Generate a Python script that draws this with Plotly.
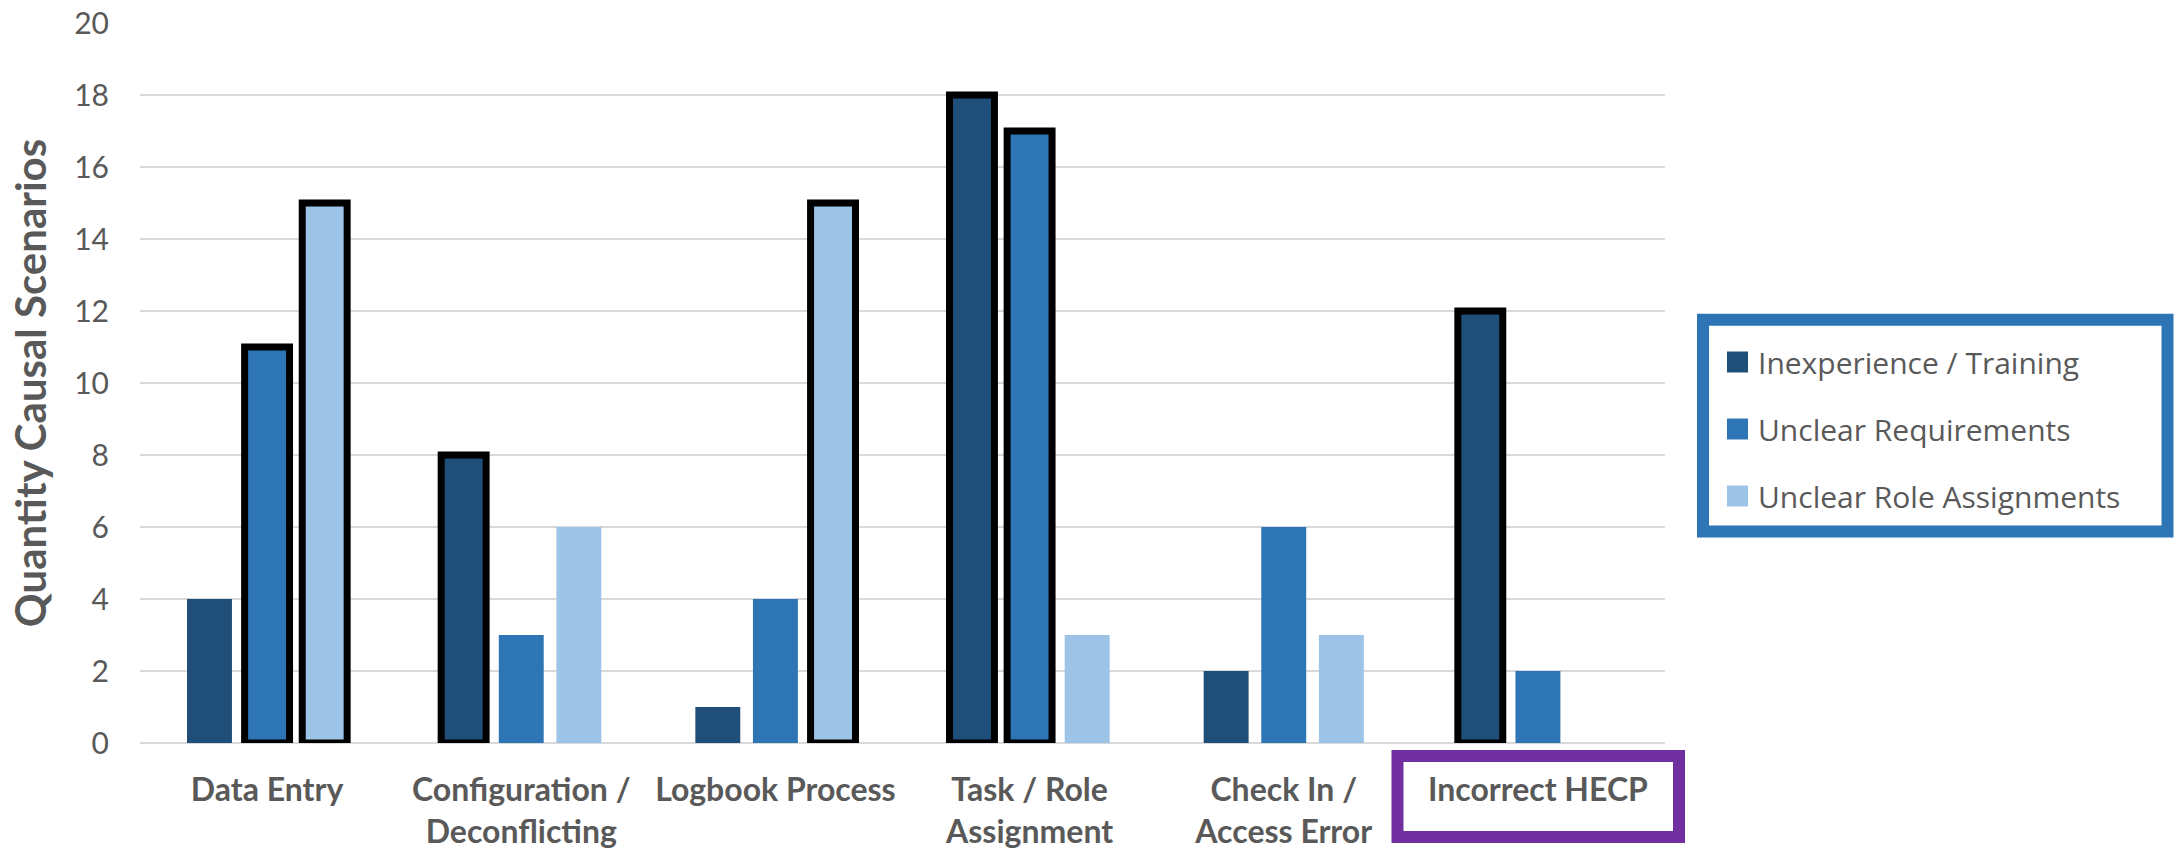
import plotly.graph_objects as go

# Category labels and series values
categories = ["Data Entry", "Configuration /<br>Deconflicting", "Logbook Process",
              "Task / Role<br>Assignment", "Check In /<br>Access Error", "Incorrect HECP"]
series_names = ["Inexperience / Training", "Unclear Requirements", "Unclear Role Assignments"]
inexperience = [4, 8, 1, 18, 2, 12]
unclear_req = [11, 3, 4, 17, 6, 2]
unclear_role = [15, 6, 15, 3, 3, 0]
# which bars get a heavy black outline (1 = outlined)
outline_inexp = [0, 1, 0, 1, 0, 1]
outline_req = [1, 0, 0, 1, 0, 0]
outline_role = [1, 0, 1, 0, 0, 0]
y_ticks = [0, 2, 4, 6, 8, 10, 12, 14, 16, 18, 20]

colors = ["#1F4E79", "#2E75B6", "#9DC3E6"]
GRAY = "#595959"
W, H = 2179, 849
L, R, T, B = 140, 1665, 23, 743  # plot area in pixels


def px(x):
    return (x - L) / (R - L)


def py(y):
    return (B - y) / (B - T)


fig = go.Figure()
for name, vals, outl, col in zip(series_names,
                                 [inexperience, unclear_req, unclear_role],
                                 [outline_inexp, outline_req, outline_role],
                                 colors):
    fig.add_trace(go.Bar(
        x=categories, y=vals, name=name, showlegend=False,
        marker=dict(color=col,
                    line=dict(color="black", width=[7 if o else 0 for o in outl])),
    ))

fig.update_layout(
    width=W, height=H,
    margin=dict(l=L, r=W - R, t=T, b=H - B, autoexpand=False),
    paper_bgcolor="white", plot_bgcolor="white",
    barmode="group", bargap=0.32, bargroupgap=0.22,
    font=dict(family="Lato", color=GRAY),
    xaxis=dict(tickangle=0, showline=False, showgrid=False, ticks="",
               tickfont=dict(family="Lato", size=32, color=GRAY, weight="bold"),
               ticklabelstandoff=25),
    yaxis=dict(range=[0, 20], tickvals=y_ticks, showgrid=True, gridcolor="#D9D9D9",
               gridwidth=2, zeroline=True, zerolinecolor="#D9D9D9", zerolinewidth=2,
               showline=False, ticks="",
               tickfont=dict(family="Lato", size=30, color=GRAY),
               ticklabelstandoff=30,
               title=dict(text="Quantity Causal Scenarios", standoff=14,
                          font=dict(family="Lato", size=42, color=GRAY, weight="bold"))),
)

# Legend box with heavy blue frame
shapes = [dict(type="rect", xref="paper", yref="paper",
               x0=px(1703), x1=px(2167.5), y0=py(531.5), y1=py(319.7),
               line=dict(color="#2E75B6", width=12), fillcolor="white", layer="above")]
annotations = []
for i, (name, col) in enumerate(zip(series_names, colors)):
    cy = 362 + 67 * i
    shapes.append(dict(type="rect", xref="paper", yref="paper",
                       x0=px(1727), x1=px(1748), y0=py(cy + 10.5), y1=py(cy - 10.5),
                       line=dict(width=0), fillcolor=col, layer="above"))
    annotations.append(dict(text=name, xref="paper", yref="paper",
                            x=px(1756), y=py(cy), xanchor="left", yanchor="middle",
                            showarrow=False,
                            font=dict(family="Open Sans", size=30, color=GRAY)))

# Purple frame around the last category label
shapes.append(dict(type="rect", xref="paper", yref="paper",
                   x0=px(1397.5), x1=px(1679), y0=py(837), y1=py(756),
                   line=dict(color="#7030A0", width=12), layer="above"))

fig.update_layout(shapes=shapes, annotations=annotations)
fig.write_html("out.html")
